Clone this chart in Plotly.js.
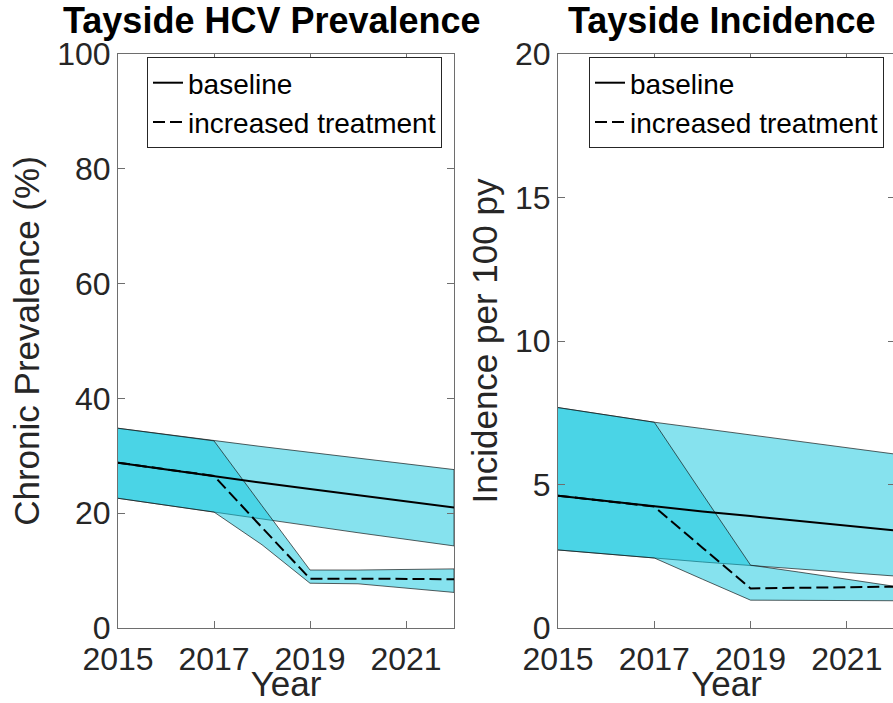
<!DOCTYPE html>
<html>
<head>
<meta charset="utf-8">
<script src="https://cdn.plot.ly/plotly-3.0.1.min.js"></script>
<style>
  html, body { margin: 0; padding: 0; overflow: hidden; background: #fff; }
  #chart { width: 896px; height: 703px; }
</style>
</head>
<body>
<div id="chart"></div>
<script>
// ---- data ----
var years = [2015, 2016, 2017, 2018, 2019, 2020, 2021, 2022];

// Prevalence (%)
var prevBaseline      = [28.8, 27.6, 26.5, 25.3, 24.2, 23.1, 22.0, 21.0];
var prevBaselineUpper = [34.8, 33.7, 32.6, 31.6, 30.6, 29.6, 28.6, 27.6];
var prevBaselineLower = [22.6, 21.4, 20.2, 19.0, 17.8, 16.6, 15.4, 14.3];
var prevTreat         = [28.8, 27.6, 26.5, 17.5, 8.6, 8.6, 8.5, 8.5];
var prevTreatUpper    = [34.8, 33.7, 32.6, 21.3, 10.1, 10.1, 10.2, 10.3];
var prevTreatLower    = [22.6, 21.4, 20.2, 14.5, 7.8, 7.7, 6.9, 6.2];

// Incidence per 100 py
var incBaseline      = [4.61, 4.42, 4.23, 4.06, 3.90, 3.73, 3.57, 3.40];
var incBaselineUpper = [7.68, 7.42, 7.17, 6.95, 6.73, 6.50, 6.28, 6.06];
var incBaselineLower = [2.72, 2.58, 2.44, 2.30, 2.16, 2.05, 1.93, 1.81];
var incTreat         = [4.61, 4.42, 4.23, 2.80, 1.38, 1.40, 1.42, 1.44];
var incTreatUpper    = [7.68, 7.42, 7.17, 4.67, 2.19, 1.95, 1.70, 1.45];
var incTreatLower    = [2.72, 2.58, 2.44, 1.70, 0.97, 0.96, 0.96, 0.95];

var seriesNames = ['baseline', 'increased treatment'];
var panelTitles = ['Tayside HCV Prevalence', 'Tayside Incidence'];
var yTitles = ['Chronic Prevalence (%)', 'Incidence per 100 py'];
var xTitle = 'Year';

// ---- styles ----
var FONT = "'Liberation Sans', Arial, Helvetica, sans-serif";
var bandFill = 'rgba(13,197,221,0.5)';
var edgeColor = 'rgba(20,20,20,0.85)';
var axisColor = '#6e6e6e';
var textColor = '#262626';
var W = 896, H = 703;

function band(upper, lower, xa, ya) {
  var x = years.concat(years.slice().reverse());
  var y = upper.concat(lower.slice().reverse());
  return {
    x: x, y: y, xaxis: xa, yaxis: ya, type: 'scatter', mode: 'lines',
    fill: 'toself', fillcolor: bandFill,
    line: {color: edgeColor, width: 0.8},
    showlegend: false, hoverinfo: 'skip'
  };
}
function line(y, name, dash, xa, ya, legend) {
  return {
    x: years, y: y, xaxis: xa, yaxis: ya, type: 'scatter', mode: 'lines',
    name: name, legend: legend,
    line: {color: '#000', width: 2, dash: dash}
  };
}

var traces = [
  band(prevBaselineUpper, prevBaselineLower, 'x', 'y'),
  band(prevTreatUpper, prevTreatLower, 'x', 'y'),
  line(prevBaseline, seriesNames[0], 'solid', 'x', 'y', 'legend'),
  line(prevTreat, seriesNames[1], '12px,5px', 'x', 'y', 'legend'),
  band(incBaselineUpper, incBaselineLower, 'x2', 'y2'),
  band(incTreatUpper, incTreatLower, 'x2', 'y2'),
  line(incBaseline, seriesNames[0], 'solid', 'x2', 'y2', 'legend2'),
  line(incTreat, seriesNames[1], '12px,5px', 'x2', 'y2', 'legend2')
];

var yDom = [(H - 628) / H, (H - 54) / H];
function xAxis(dom, anchor) {
  return {
    domain: dom, anchor: anchor, range: [2015, 2022],
    tickvals: [2015, 2017, 2019, 2021], ticks: 'inside', ticklen: 7,
    tickcolor: axisColor, showline: true, linecolor: axisColor, linewidth: 1,
    mirror: 'allticks', showgrid: false, zeroline: false,
    ticklabelstandoff: 3,
    tickfont: {family: FONT, size: 32, color: textColor},
    title: {text: xTitle, font: {family: FONT, size: 35, color: textColor}, standoff: 0}
  };
}
function yAxis(anchor, range, dtick, title) {
  return {
    domain: yDom, anchor: anchor, range: range, dtick: dtick, tick0: 0,
    ticks: 'inside', ticklen: 7, tickcolor: axisColor,
    showline: true, linecolor: axisColor, linewidth: 1,
    mirror: 'allticks', showgrid: false, zeroline: false,
    tickfont: {family: FONT, size: 32, color: textColor},
    title: {text: title, font: {family: FONT, size: 35, color: textColor}, standoff: 6}
  };
}

var legendBase = {
  yanchor: 'top', xanchor: 'left', y: 1 - 57 / H,
  bgcolor: '#fff', bordercolor: textColor, borderwidth: 1,
  font: {family: FONT, size: 28, color: '#000'}, itemwidth: 30, tracegroupgap: 0
};

var layout = {
  width: W, height: H,
  margin: {l: 0, r: 0, t: 0, b: 0, pad: 0},
  paper_bgcolor: '#fff', plot_bgcolor: '#fff',
  showlegend: true,
  xaxis: xAxis([118 / W, 454 / W], 'y'),
  yaxis: yAxis('x', [0, 100], 20, yTitles[0]),
  xaxis2: xAxis([558 / W, 895 / W], 'y2'),
  yaxis2: yAxis('x2', [0, 20], 5, yTitles[1]),
  legend: Object.assign({}, legendBase, {x: 147 / W}),
  legend2: Object.assign({}, legendBase, {x: 589 / W}),
  annotations: [
    {text: panelTitles[0], xref: 'paper', yref: 'paper', x: 272 / W, y: 1 - 21 / H,
     xanchor: 'center', yanchor: 'middle', showarrow: false,
     font: {family: FONT, size: 36, color: '#000', weight: 'bold'}},
    {text: panelTitles[1], xref: 'paper', yref: 'paper', x: 721 / W, y: 1 - 21 / H,
     xanchor: 'center', yanchor: 'middle', showarrow: false,
     font: {family: FONT, size: 36, color: '#000', weight: 'bold'}}
  ]
};

Plotly.newPlot('chart', traces, layout, {displayModeBar: false, staticPlot: true});
</script>
</body>
</html>
